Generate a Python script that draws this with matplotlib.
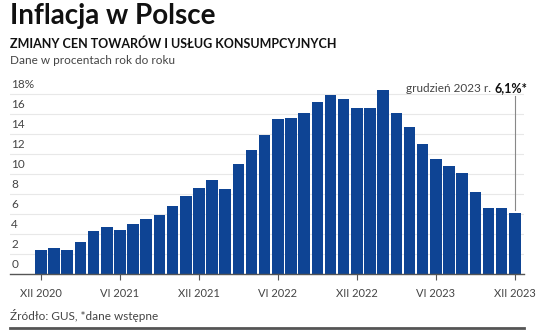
import matplotlib
matplotlib.use("Agg")
import matplotlib.pyplot as plt
import numpy as np

plt.rcParams['font.family'] = ['Lato', 'DejaVu Sans']

# CPI y/y, XII 2020 .. XII 2023
months = ["XII 2020", "I 2021", "II 2021", "III 2021", "IV 2021", "V 2021", "VI 2021",
          "VII 2021", "VIII 2021", "IX 2021", "X 2021", "XI 2021", "XII 2021",
          "I 2022", "II 2022", "III 2022", "IV 2022", "V 2022", "VI 2022",
          "VII 2022", "VIII 2022", "IX 2022", "X 2022", "XI 2022", "XII 2022",
          "I 2023", "II 2023", "III 2023", "IV 2023", "V 2023", "VI 2023",
          "VII 2023", "VIII 2023", "IX 2023", "X 2023", "XI 2023", "XII 2023"]
inflation = [2.4, 2.6, 2.4, 3.2, 4.3, 4.7, 4.4, 5.0, 5.5, 5.9, 6.8, 7.8, 8.6,
             9.4, 8.5, 11.0, 12.4, 13.9, 15.5, 15.6, 16.1, 17.2, 17.9, 17.5, 16.6,
             16.6, 18.4, 16.1, 14.7, 13.0, 11.5, 10.8, 10.1, 8.2, 6.6, 6.6, 6.1]
tick_labels = ["XII 2020", "VI 2021", "XII 2021", "VI 2022", "XII 2022", "VI 2023", "XII 2023"]
y_ticks = [0, 2, 4, 6, 8, 10, 12, 14, 16, 18]

W, H = 536, 332
fig = plt.figure(figsize=(W / 100, H / 100), dpi=100)
ax = fig.add_axes([10 / W, 1 - 274 / H, (524 - 10) / W, (274 - 80) / H])

x = np.arange(len(inflation))
ax.bar(x, inflation, width=0.88, color="#0e4494", edgecolor="none", zorder=2)

ax.set_xlim(-2.35, 36.7)
ax.set_ylim(0, 19.4)

for v in y_ticks[1:]:
    ax.axhline(v, color="#e8e8e8", lw=0.8, zorder=0)
    ax.text(-2.35 + 0.1, v + 0.35, f"{v}%" if v == 18 else str(v), fontsize=8.5,
            color="#444444", ha="left", va="bottom")
ax.text(-2.35 + 0.1, 0.35, "0", fontsize=8.5, color="#444444", ha="left", va="bottom")

ax.set_yticks([])
pos = [months.index(t) for t in tick_labels]
ax.set_xticks(pos)
ax.set_xticklabels(tick_labels, fontsize=8, color="#444444")
ax.tick_params(axis="x", length=4, width=0.8, color="#555555", pad=6)
for s in ["top", "right", "left"]:
    ax.spines[s].set_visible(False)
ax.spines["bottom"].set_color("#555555")
ax.spines["bottom"].set_linewidth(1.0)

# annotation for last month
last = len(inflation) - 1
ax.plot([last, last], [inflation[last] + 0.3, 17.8], color="#888888", lw=0.8, zorder=3)
bold = fig.text(527 / W, 1 - 88 / H, "6,1%*", fontsize=9, color="#111111",
                fontweight="bold", ha="right", va="center")
fig.canvas.draw()
bb = bold.get_window_extent()
fig.text((bb.x0 - 3) / W, 1 - 88 / H, "grudzień 2023 r.", fontsize=8.5, color="#444444",
         ha="right", va="center")

fig.text(10 / W, 1 - 16 / H, "Inflacja w Polsce", fontsize=20, fontweight="bold",
         color="#111111", ha="left", va="center")
fig.text(10 / W, 1 - 44 / H, "ZMIANY CEN TOWARÓW I USŁUG KONSUMPCYJNYCH", fontsize=9,
         fontweight="bold", color="#111111", ha="left", va="center")
fig.text(10 / W, 1 - 61 / H, "Dane w procentach rok do roku", fontsize=8.5,
         color="#444444", ha="left", va="center")
fig.text(10 / W, 1 - 316 / H, "Źródło: GUS, *dane wstępne", fontsize=8.5,
         color="#444444", ha="left", va="center")
fig.add_artist(plt.Line2D([10 / W, 524 / W], [1 - 328 / H, 1 - 328 / H],
                          color="#555555", lw=2))

fig.savefig("out.png", dpi=100)
